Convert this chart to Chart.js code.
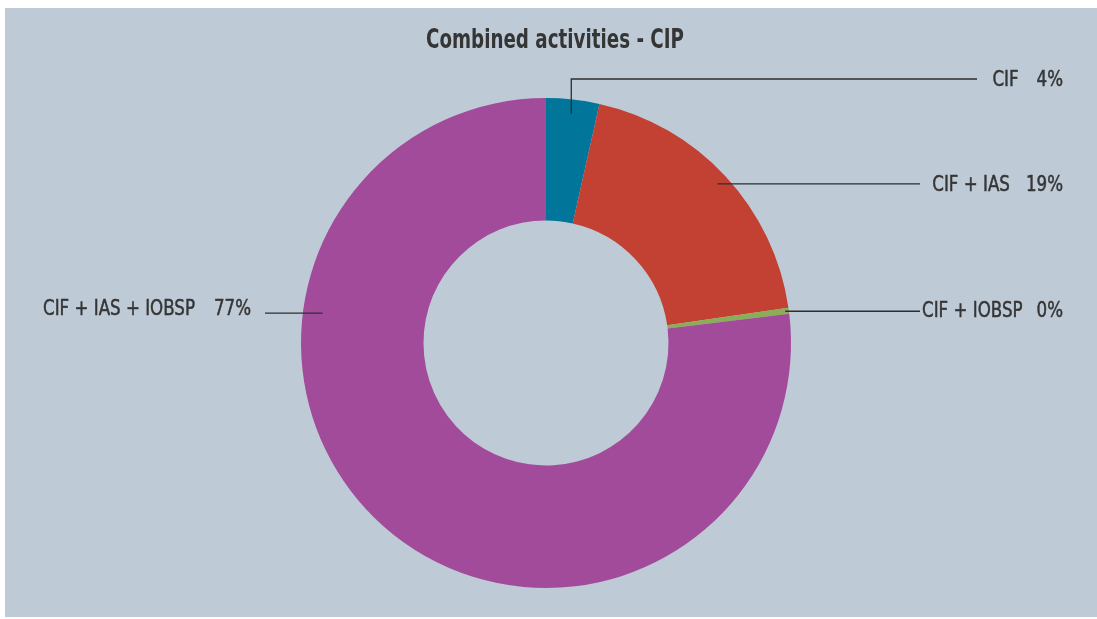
<!DOCTYPE html>
<html>
<head>
<meta charset="utf-8">
<script src="https://cdn.jsdelivr.net/npm/chart.js@4/dist/chart.umd.min.js"></script>
<style>
  html, body { margin: 0; padding: 0; background: #ffffff; }
  #wrap { width: 1097px; height: 619px; position: relative; }
</style>
</head>
<body>
<div id="wrap"><canvas id="chart" width="1097" height="619"></canvas></div>
<script>
// Share of combined activities (percent)
const categories = ['CIF', 'CIF + IAS', 'CIF + IOBSP', 'CIF + IAS + IOBSP'];
const shares = [3.5, 19.2, 0.4, 76.9];
const sliceColors = ['#01759a', '#c24132', '#8aae55', '#a34b9b'];
const chartTitle = 'Combined activities - CIP';

const PANEL = '#becbd6';
const INK = '#353535';
const FONT_FAMILY = "'DejaVu Sans Condensed', 'Liberation Sans', sans-serif";

// Condensed look: text is squeezed horizontally to these widths
const TITLE_WIDTH = 258;
const LABEL_REF_WIDTH = 152;

// Callout layout per slice: where the leader starts on the ring (canvas degrees or slice middle),
// where it bends and ends, and where the text sits.
const callouts = [
  { angle: 'mid', r: 0.94, elbowY: 79,  lineEnd: 977, textRight: 1063, baseline: 86,  side: 'right', gap: 18 },
  { angle: 'mid', r: 0.955, elbowY: null, lineEnd: 920, textRight: 1063, baseline: 191, side: 'right', gap: 16 },
  { angle: 'mid', r: 0.985, elbowY: null, lineEnd: 920, textRight: 1063, baseline: 317, side: 'right', gap: 14 },
  { angle: -172.4, r: 0.92, elbowY: null, lineEnd: 265, textLeft: 43, baseline: 315, side: 'left', gap: 19 }
];

const panelPlugin = {
  id: 'panel',
  beforeDraw(chart) {
    const ctx = chart.ctx;
    ctx.save();
    ctx.fillStyle = '#ffffff';
    ctx.fillRect(0, 0, chart.width, chart.height);
    ctx.fillStyle = PANEL;
    ctx.fillRect(5, 8, chart.width - 5, chart.height - 10);
    ctx.restore();
  }
};

// Draws squeezed text; a hairline outline gives the labels a medium weight
function drawText(ctx, text, x, y, align, sx, outline) {
  ctx.save();
  ctx.translate(x, y);
  ctx.scale(sx, 1);
  ctx.textAlign = align;
  ctx.fillText(text, 0, 0);
  if (outline) {
    ctx.lineWidth = outline;
    ctx.strokeStyle = ctx.fillStyle;
    ctx.strokeText(text, 0, 0);
  }
  ctx.restore();
}

const calloutPlugin = {
  id: 'callouts',
  afterDraw(chart) {
    const ctx = chart.ctx;
    const meta = chart.getDatasetMeta(0);
    const values = chart.data.datasets[0].data;

    ctx.save();
    ctx.textBaseline = 'alphabetic';
    ctx.fillStyle = INK;

    // title
    ctx.font = "bold 27px " + FONT_FAMILY;
    const titleSX = TITLE_WIDTH / ctx.measureText(chartTitle).width;
    drawText(ctx, chartTitle, 555, 48, 'center', titleSX, 0);

    ctx.font = "22px " + FONT_FAMILY;
    const labelSX = LABEL_REF_WIDTH / ctx.measureText(categories[categories.length - 1]).width;

    meta.data.forEach((arc, i) => {
      const c = callouts[i];
      const p = arc.getProps(['x', 'y', 'startAngle', 'endAngle', 'outerRadius'], true);
      const ang = c.angle === 'mid' ? (p.startAngle + p.endAngle) / 2 : c.angle * Math.PI / 180;
      const ax = p.x + Math.cos(ang) * p.outerRadius * c.r;
      const ay = p.y + Math.sin(ang) * p.outerRadius * c.r;

      ctx.strokeStyle = '#2e2e2e';
      ctx.lineWidth = 1.3;
      ctx.beginPath();
      ctx.moveTo(ax, ay);
      let ly = ay;
      if (c.elbowY !== null) {
        ctx.lineTo(ax, c.elbowY);
        ly = c.elbowY;
      }
      ctx.lineTo(c.lineEnd, ly);
      ctx.stroke();

      const pct = Math.round(values[i]) + '%';
      const pctW = ctx.measureText(pct).width * labelSX;
      const nameW = ctx.measureText(categories[i]).width * labelSX;
      ctx.fillStyle = INK;
      if (c.side === 'right') {
        drawText(ctx, pct, c.textRight, c.baseline, 'right', labelSX, 0.5);
        drawText(ctx, categories[i], c.textRight - pctW - c.gap, c.baseline, 'right', labelSX, 0.5);
      } else {
        drawText(ctx, categories[i], c.textLeft, c.baseline, 'left', labelSX, 0.5);
        drawText(ctx, pct, c.textLeft + nameW + c.gap, c.baseline, 'left', labelSX, 0.5);
      }
    });
    ctx.restore();
  }
};

new Chart(document.getElementById('chart'), {
  type: 'doughnut',
  data: {
    labels: categories,
    datasets: [{
      data: shares,
      backgroundColor: sliceColors,
      borderWidth: 0,
      hoverOffset: 0
    }]
  },
  options: {
    responsive: false,
    animation: false,
    devicePixelRatio: 1,
    cutout: '50%',
    layout: { padding: { top: 98, bottom: 31, left: 0, right: 5 } },
    plugins: {
      legend: { display: false },
      title: { display: false },
      tooltip: { enabled: false }
    }
  },
  plugins: [panelPlugin, calloutPlugin]
});
</script>
</body>
</html>
